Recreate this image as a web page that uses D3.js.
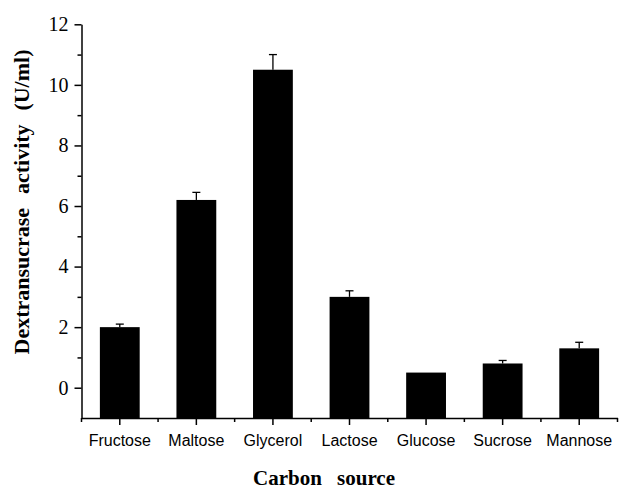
<!DOCTYPE html>
<html>
<head>
<meta charset="utf-8">
<script src="https://cdn.jsdelivr.net/npm/d3@7"></script>
<style>
  body { margin: 0; background: #fff; }
  svg { display: block; }
  .serif { font-family: "Liberation Serif", "Times New Roman", serif; }
  .sans { font-family: "Liberation Sans", Arial, sans-serif; }
</style>
</head>
<body>
<div id="chart"></div>
<script>
// values
const sources = ["Fructose", "Maltose", "Glycerol", "Lactose", "Glucose", "Sucrose", "Mannose"];
const activity = [2.0, 6.2, 10.5, 3.0, 0.5, 0.8, 1.3];
const errors = [0.1, 0.25, 0.5, 0.2, 0, 0.1, 0.2];
const majorTicks = [0, 2, 4, 6, 8, 10, 12];
const minorTicks = [1, 3, 5, 7, 9, 11];

const W = 619, H = 489;
const plotLeft = 81.5, plotRight = 617.5, plotTop = 24.3, plotBottom = 418;

const svg = d3.select("#chart").append("svg")
  .attr("width", W)
  .attr("height", H);

const x = d3.scaleBand()
  .domain(sources)
  .range([plotLeft, plotRight])
  .paddingInner(0.48)
  .paddingOuter(0.24);

// -1 sits on the x axis, 12 at the top tick
const y = d3.scaleLinear()
  .domain([-1, 12])
  .range([plotBottom, plotTop]);

const rows = sources.map((s, i) => ({ name: s, value: activity[i], err: errors[i] }));

// bars
svg.append("g")
  .selectAll("rect")
  .data(rows)
  .join("rect")
  .attr("x", d => x(d.name))
  .attr("y", d => y(d.value))
  .attr("width", x.bandwidth())
  .attr("height", d => y(-1) - y(d.value))
  .attr("fill", "#000");

// error bars (upper half only)
const eb = svg.append("g")
  .attr("stroke", "#000")
  .attr("stroke-width", 1.3)
  .selectAll("g")
  .data(rows.filter(d => d.err > 0))
  .join("g");

eb.append("line")
  .attr("x1", d => x(d.name) + x.bandwidth() / 2)
  .attr("x2", d => x(d.name) + x.bandwidth() / 2)
  .attr("y1", d => y(d.value))
  .attr("y2", d => y(d.value + d.err));

eb.append("line")
  .attr("x1", d => x(d.name) + x.bandwidth() / 2 - 4)
  .attr("x2", d => x(d.name) + x.bandwidth() / 2 + 4)
  .attr("y1", d => y(d.value + d.err))
  .attr("y2", d => y(d.value + d.err));

// y axis
const yAxis = svg.append("g")
  .attr("transform", `translate(${plotLeft},0)`)
  .call(d3.axisLeft(y).tickValues(majorTicks).tickSize(7).tickSizeOuter(0).tickPadding(6));

svg.append("g")
  .attr("transform", `translate(${plotLeft},0)`)
  .call(d3.axisLeft(y).tickValues(minorTicks).tickSize(4).tickFormat(""))
  .call(g => g.select(".domain").remove());

yAxis.attr("font-family", null).attr("font-size", null);
yAxis.selectAll("text")
  .attr("class", "serif")
  .style("font-size", "20px")
  .attr("fill", "#000");

// x axis
const xAxis = svg.append("g")
  .attr("transform", `translate(0,${plotBottom})`)
  .call(d3.axisBottom(x).tickSize(7).tickSizeOuter(0).tickPadding(10));

xAxis.attr("font-family", null).attr("font-size", null);
xAxis.selectAll("text")
  .attr("class", "sans")
  .style("font-size", "16px")
  .attr("fill", "#000");

// minor ticks on band edges
const edges = d3.range(sources.length + 1).map(i => plotLeft + i * x.step());
svg.append("g")
  .attr("stroke", "#000")
  .attr("stroke-width", 1.5)
  .selectAll("line")
  .data(edges)
  .join("line")
  .attr("x1", d => d)
  .attr("x2", d => d)
  .attr("y1", plotBottom)
  .attr("y2", plotBottom + 4);

svg.selectAll(".domain, .tick line")
  .attr("stroke", "#000")
  .attr("stroke-width", 1.5);

// axis titles, word gaps widened to match the original's spread
function spreadTo(sel, target) {
  const words = sel.text().split(" ").length - 1;
  const len = sel.node().getComputedTextLength();
  if (words > 0) sel.attr("word-spacing", Math.max(0, (target - len) / words));
}

const xTitle = svg.append("text")
  .attr("class", "serif")
  .attr("x", 324)
  .attr("y", 485)
  .attr("text-anchor", "middle")
  .attr("font-weight", "bold")
  .style("font-size", "21px")
  .text("Carbon source");
spreadTo(xTitle, 142);

const yTitle = svg.append("text")
  .attr("class", "serif")
  .attr("transform", "translate(28.5,202) rotate(-90)")
  .attr("text-anchor", "middle")
  .attr("font-weight", "bold")
  .style("font-size", "22px")
  .text("Dextransucrase activity (U/ml)");
spreadTo(yTitle, 305);
</script>
</body>
</html>
